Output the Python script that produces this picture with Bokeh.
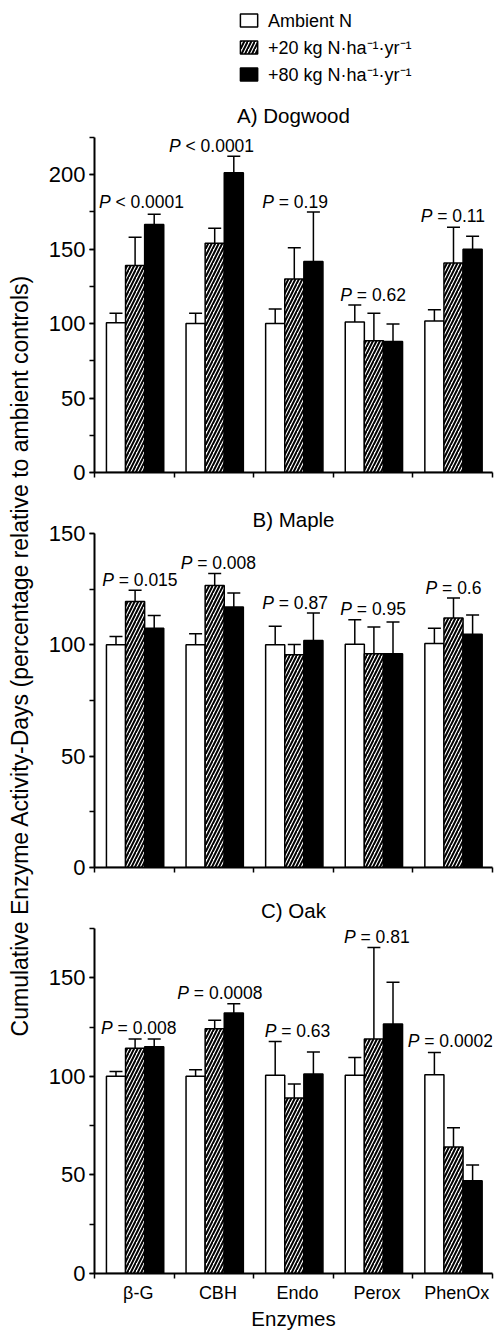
import math
from bokeh.plotting import figure
from bokeh.models import (ColumnDataSource, Range1d, FixedTicker, SingleIntervalTicker,
                          Whisker, TeeHead)
from bokeh.layouts import row, column
from bokeh.embed import file_html
from bokeh.resources import INLINE
from bokeh.core.properties import value

# ---------------- data ----------------
enzymes = ["β-G", "CBH", "Endo", "Perox", "PhenOx"]
series = ["Ambient N", "+20 kg N·ha⁻¹·yr⁻¹", "+80 kg N·ha⁻¹·yr⁻¹"]

# A) Dogwood
dog_ambient = [100.6, 100.0, 100.0, 101.0, 101.7]
dog_ambient_err = [107.0, 107.0, 109.8, 112.5, 109.3]
dog_20 = [139.0, 154.0, 130.0, 88.5, 140.7]
dog_20_err = [158.0, 164.0, 151.0, 107.0, 164.7]
dog_80 = [166.5, 201.4, 141.8, 88.0, 149.9]
dog_80_err = [173.4, 212.4, 175.0, 99.7, 158.6]
dog_p = ["< 0.0001", "< 0.0001", "= 0.19", "= 0.62", "= 0.11"]

# B) Maple
maple_ambient = [100.0, 100.0, 100.0, 100.3, 100.6]
maple_ambient_err = [103.7, 105.0, 108.3, 111.3, 107.5]
maple_20 = [119.5, 126.6, 95.5, 96.0, 112.0]
maple_20_err = [124.5, 132.0, 100.1, 108.0, 121.0]
maple_80 = [107.5, 117.0, 102.0, 96.0, 104.8]
maple_80_err = [113.2, 123.3, 114.3, 110.2, 113.4]
maple_p = ["= 0.015", "= 0.008", "= 0.87", "= 0.95", "= 0.6"]

# C) Oak
oak_ambient = [100.0, 100.0, 100.5, 100.5, 100.8]
oak_ambient_err = [102.5, 103.4, 117.7, 109.6, 112.1]
oak_20 = [114.2, 124.1, 89.0, 118.9, 64.2]
oak_20_err = [119.0, 128.5, 96.1, 165.4, 73.9]
oak_80 = [115.0, 132.2, 101.2, 126.6, 47.0]
oak_80_err = [119.0, 136.8, 112.3, 147.7, 55.0]
oak_p = ["= 0.008", "= 0.0008", "= 0.63", "= 0.81", "= 0.0002"]

# ---------------- layout / style ----------------
FONT = "Liberation Sans"
LABEL_POS = 0.55                  # tick label position inside a group
BAR_OFFSETS = [0.27, 0.51, 0.75]  # bar centres inside a group
BAR_W = 0.24
FILLS = ["white", "white", "black"]
HATCH = [None, "/", None]
HATCH_KW = dict(hatch_color="black", hatch_weight=2, hatch_scale=7)
P_FS = 17.5

# annotation placement (group coordinate of label centre, data y of label centre)
dog_p_place = ([0.59, 1.47, 2.52, 3.50, 4.51], [181.4, 219.5, 182.0, 119.4, 172.5])
maple_p_place = ([0.57, 1.556, 2.52, 3.50, 4.51], [129.3, 136.8, 118.8, 116.0, 125.5])
oak_p_place = ([0.556, 1.575, 2.55, 3.547, 4.47], [124.5, 142.2, 122.8, 170.5, 117.7])

CW = {' ': 0.278, '<': 0.584, '=': 0.584, '.': 0.278, 'P': 0.667}


def text_w(s, fs):
    return sum(CW.get(c, 0.556) for c in s) * fs


LABEL_W = 38
FIG_W = 499 - LABEL_W
FRAME_LEFT = 56
FRAME_RIGHT = 7


def panel(title, ymax, height, top, bottom, title_standoff, vals, errs, ptxt, pplace, last):
    p = figure(width=FIG_W, height=height, x_range=Range1d(-LABEL_POS, 5 - LABEL_POS),
               y_range=Range1d(0, ymax), output_backend="svg", toolbar_location=None,
               min_border_left=FRAME_LEFT, min_border_right=FRAME_RIGHT,
               min_border_top=top, min_border_bottom=bottom)
    p.title.text = title
    p.title.align = "center"
    p.title.text_font = FONT
    p.title.text_font_size = "20.5px"
    p.title.text_font_style = "normal"
    p.title.text_color = "black"
    p.title.standoff = title_standoff
    p.grid.visible = False
    p.outline_line_color = None

    for i in range(3):
        xs = [k + BAR_OFFSETS[i] - LABEL_POS for k in range(5)]
        src = ColumnDataSource(dict(x=xs, top=vals[i], err=errs[i]))
        w = Whisker(source=src, base="x", lower="top", upper="err", dimension="height",
                    line_color="black", line_width=1.5,
                    upper_head=TeeHead(size=13, line_color="black", line_width=1.5),
                    lower_head=None)
        p.add_layout(w)
        kw = dict(hatch_pattern=HATCH[i], **HATCH_KW) if HATCH[i] else {}
        p.vbar(x="x", top="top", bottom=0, width=BAR_W, source=src,
               fill_color=FILLS[i], line_color="black", line_width=1.5, **kw)

    # P labels (italic P + rest)
    px, py = pplace
    wP = text_w("P", P_FS)
    wS = text_w(" ", P_FS)
    totals = [wP + wS + text_w(t, P_FS) for t in ptxt]
    xs = [x - LABEL_POS for x in px]
    srcp = ColumnDataSource(dict(x=xs, y=py, t=["P"] * 5, r=ptxt,
                                 o1=[-t / 2 for t in totals],
                                 o2=[-t / 2 + wP + wS for t in totals]))
    p.text(x="x", y="y", text="t", x_offset="o1", source=srcp, text_font=value(FONT),
           text_font_style="italic", text_font_size=f"{P_FS}px", text_align="left",
           text_baseline="middle", text_color="black")
    p.text(x="x", y="y", text="r", x_offset="o2", source=srcp, text_font=value(FONT),
           text_font_size=f"{P_FS}px", text_align="left", text_baseline="middle",
           text_color="black")

    # axes
    ya = p.yaxis[0]
    ya.ticker = SingleIntervalTicker(interval=50, num_minor_ticks=2)
    ya.major_label_text_font = FONT
    ya.major_label_text_font_size = "22px"
    ya.major_label_standoff = 4
    xa = p.xaxis[0]
    minor = [k - LABEL_POS for k in range(6)]
    if last:
        xa.ticker = FixedTicker(ticks=list(range(5)), minor_ticks=minor)
        xa.major_label_overrides = {k: enzymes[k] for k in range(5)}
        xa.axis_label = "Enzymes"
        xa.axis_label_text_font = FONT
        xa.axis_label_text_font_size = "20.5px"
        xa.axis_label_text_font_style = "normal"
        xa.axis_label_text_color = "black"
        xa.axis_label_standoff = 1
        xa.major_label_text_font = FONT
        xa.major_label_text_font_size = "18px"
        xa.major_label_standoff = 4
    else:
        xa.ticker = FixedTicker(ticks=[], minor_ticks=minor)
    for ax in (xa, ya):
        ax.axis_line_width = 2
        ax.axis_line_color = "black"
        ax.major_tick_in = 0
        ax.minor_tick_in = 0
        ax.minor_tick_out = 5
        ax.major_tick_line_width = 1.5
        ax.minor_tick_line_width = 1.5
        ax.major_label_text_color = "black"
    ya.major_tick_out = 5
    xa.major_tick_out = 0
    return p


LEG_H = 88
H_A, H_B, H_C = 407, 390, 447
pA = panel("A) Dogwood", 225, H_A, 49, 23, 22,
           [dog_ambient, dog_20, dog_80], [dog_ambient_err, dog_20_err, dog_80_err],
           dog_p, dog_p_place, False)
pB = panel("B) Maple", 150, H_B, 38, 18, 6,
           [maple_ambient, maple_20, maple_80], [maple_ambient_err, maple_20_err, maple_80_err],
           maple_p, maple_p_place, False)
pC = panel("C) Oak", 175, H_C, 43, 58, 14,
           [oak_ambient, oak_20, oak_80], [oak_ambient_err, oak_20_err, oak_80_err],
           oak_p, oak_p_place, True)

# legend figure (pixel coordinates)
pL = figure(width=FIG_W, height=LEG_H, x_range=(0, FIG_W), y_range=(0, LEG_H), output_backend="svg",
            toolbar_location=None, min_border=0, x_axis_location=None, y_axis_location=None)
pL.grid.visible = False
pL.outline_line_color = None
leg_y = [LEG_H - 20, LEG_H - 47, LEG_H - 74]
for i in range(3):
    kw = dict(hatch_pattern=HATCH[i], **HATCH_KW) if HATCH[i] else {}
    pL.rect(x=[179], y=[leg_y[i]], width=20, height=13, fill_color=FILLS[i],
            line_color="black", line_width=1.5, **kw)
pL.text(x=[201] * 3, y=leg_y, text=series, text_font=value(FONT), text_font_size="18px",
        text_align="left", text_baseline="middle", text_color="black")

# shared y-axis label figure
TOTAL_H = LEG_H + H_A + H_B + H_C
pY = figure(width=LABEL_W, height=TOTAL_H, x_range=(0, LABEL_W), y_range=(0, TOTAL_H),
            output_backend="svg", toolbar_location=None, min_border=0,
            x_axis_location=None, y_axis_location=None)
pY.grid.visible = False
pY.outline_line_color = None
pY.text(x=[19], y=[TOTAL_H - 655],
        text=["Cumulative Enzyme Activity-Days (percentage relative to ambient controls)"],
        angle=math.pi / 2, text_align="center", text_baseline="middle",
        text_font=value(FONT), text_font_size="23px", text_color="black")

layout = row(pY, column(pL, pA, pB, pC))
open("out.html", "w").write(file_html(layout, INLINE))
